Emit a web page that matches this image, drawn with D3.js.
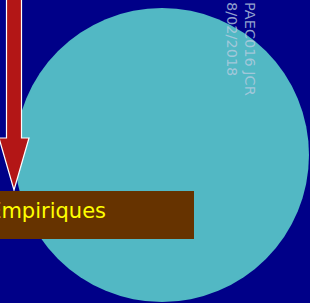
<!DOCTYPE html>
<html><head><meta charset="utf-8">
<script src="https://cdn.jsdelivr.net/npm/d3@7/dist/d3.min.js"></script>
<style>html,body{margin:0;padding:0;background:#000088;overflow:hidden}</style>
</head><body>
<script>
const labels = ["Empiriques"];
const stampLines = ["PAEC016 JCR", "8/02/2018"];
const W = 310, H = 303;
const svg = d3.select("body").append("svg").attr("width", W).attr("height", H);
svg.append("rect").attr("width", W).attr("height", H).attr("fill", "#000088");
// big circle
svg.append("circle").attr("cx", 162).attr("cy", 155).attr("r", 147).attr("fill", "#52b8c4");
// arrow
const ax = 14;
const arrow = d3.path();
arrow.moveTo(ax - 7.5, -2); arrow.lineTo(ax + 7.5, -2); arrow.lineTo(ax + 7.5, 138);
arrow.lineTo(ax + 15, 138); arrow.lineTo(ax, 190); arrow.lineTo(ax - 15, 138);
arrow.lineTo(ax - 7.5, 138); arrow.closePath();
svg.append("path").attr("d", arrow.toString()).attr("fill", "#b31616").attr("stroke", "#ffffff").attr("stroke-width", 1.2);
// label box
svg.append("rect").attr("x", -5).attr("y", 191).attr("width", 199).attr("height", 48).attr("fill", "#663300");
svg.selectAll("text.lab").data(labels).join("text").attr("class", "lab")
  .attr("x", 106).attr("y", 218).attr("text-anchor", "end")
  .attr("font-family", "DejaVu Sans").attr("font-size", 21).attr("fill", "#ffff00").text(d => d);
// stamp
const g = svg.append("g").attr("transform", "translate(244.5,2) rotate(90)");
g.selectAll("text").data(stampLines).join("text")
  .attr("x", 0).attr("y", (d, i) => i * 18)
  .attr("font-family", "DejaVu Sans").attr("font-size", 14.5).attr("fill", "#b8cce0").attr("fill-opacity", 0.8)
  .text(d => d);
</script>
</body></html>
